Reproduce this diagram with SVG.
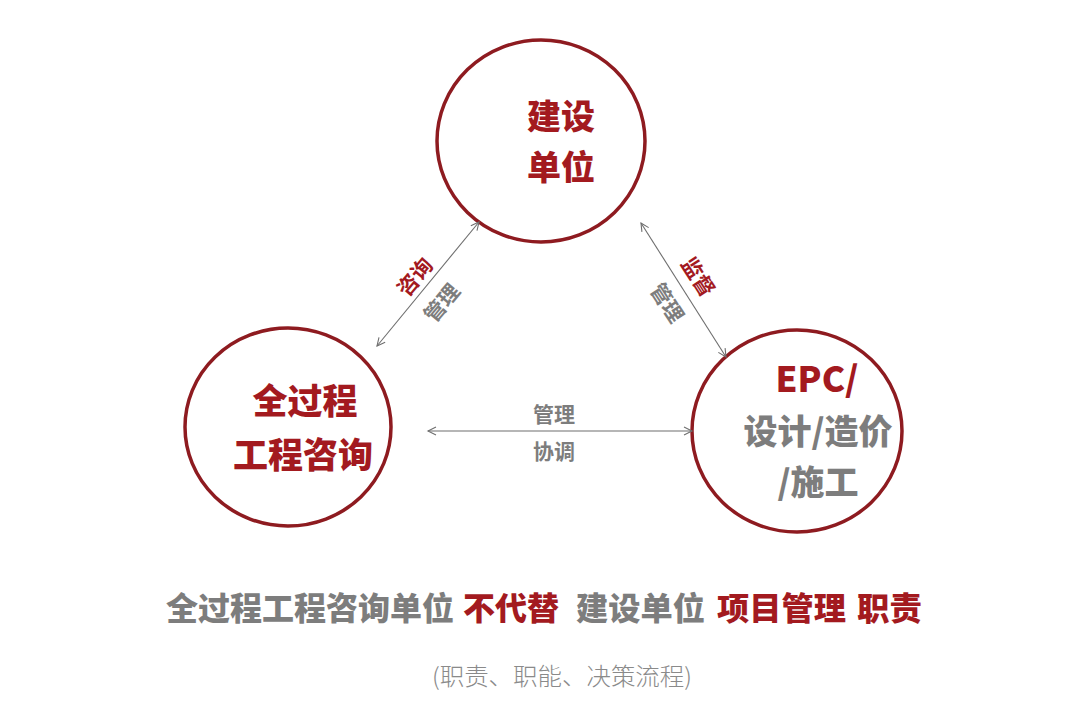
<svg xmlns="http://www.w3.org/2000/svg" width="1080" height="710" viewBox="0 0 1080 710">
<defs>
<style>
.ell{fill:none;stroke:#8e1b20;stroke-width:3.5}
.t{font-family:"Noto Sans CJK SC","Noto Sans",sans-serif;font-weight:900;text-anchor:middle}
.red{fill:#a31a1f}
.gray{fill:#7d7d7d}
.lbl{font-size:21px;font-weight:700}
.conn{stroke:#6e6e6e;stroke-width:1.1;fill:none;marker-start:url(#ah);marker-end:url(#ah)}
</style>
<marker id="ah" viewBox="-10 -6 12 12" refX="0" refY="0" markerWidth="12" markerHeight="12" markerUnits="userSpaceOnUse" orient="auto-start-reverse">
<path d="M-8,-4 L0,0 L-8,4" fill="none" stroke="#6e6e6e" stroke-width="1.1"/>
</marker>
</defs>
<rect width="1080" height="710" fill="#fff"/>
<g id="node-owner">
<ellipse class="ell" cx="541" cy="141" rx="104" ry="101"/>
<text class="t red" font-size="34" x="561" y="129">建设</text>
<text class="t red" font-size="34" x="561" y="180">单位</text>
</g>
<g id="node-consult">
<ellipse class="ell" cx="288" cy="427" rx="103" ry="99"/>
<text class="t red" font-size="35" x="305" y="414">全过程</text>
<text class="t red" font-size="35" x="303" y="468">工程咨询</text>
</g>
<g id="node-epc">
<ellipse class="ell" cx="797" cy="431" rx="105" ry="101"/>
<text class="t red" font-size="35" x="817" y="392">EPC/</text>
<text class="t gray" font-size="34" x="818" y="444">设计/造价</text>
<text class="t gray" font-size="34" x="818" y="495">/施工</text>
</g>
<g id="connectors">
<line class="conn" x1="377" y1="346" x2="479" y2="222"/>
<line class="conn" x1="641" y1="223" x2="726" y2="357"/>
<line class="conn" x1="428" y1="431" x2="692" y2="431"/>
<text class="t lbl red" transform="translate(415,277) rotate(-50)" x="0" y="7.5">咨询</text>
<text class="t lbl gray" transform="translate(442,303) rotate(-50)" x="0" y="7.5">管理</text>
<text class="t lbl red" transform="translate(698,277) rotate(57)" x="0" y="7.5">监督</text>
<text class="t lbl gray" transform="translate(667,303) rotate(57)" x="0" y="7.5">管理</text>
<text class="t lbl gray" x="554" y="421.5">管理</text>
<text class="t lbl gray" x="554" y="458.5">协调</text>
</g>
<g id="caption">
<text font-family="Noto Sans CJK SC, sans-serif" font-weight="900" font-size="32" y="620">
<tspan x="166" fill="#7d7d7d" textLength="288" lengthAdjust="spacingAndGlyphs">全过程工程咨询单位</tspan>
<tspan x="463" fill="#a31a1f" textLength="96" lengthAdjust="spacingAndGlyphs">不代替</tspan>
<tspan x="576" fill="#7d7d7d" textLength="129" lengthAdjust="spacingAndGlyphs">建设单位</tspan>
<tspan x="717" fill="#a31a1f" textLength="129" lengthAdjust="spacingAndGlyphs">项目管理</tspan>
<tspan x="857" fill="#a31a1f" textLength="65" lengthAdjust="spacingAndGlyphs">职责</tspan>
</text>
<text font-family="Noto Sans CJK SC, sans-serif" font-weight="300" font-size="24" fill="#8a8a8a" x="432" y="685" textLength="260" lengthAdjust="spacingAndGlyphs">(职责、职能、决策流程)</text>
</g>
</svg>
